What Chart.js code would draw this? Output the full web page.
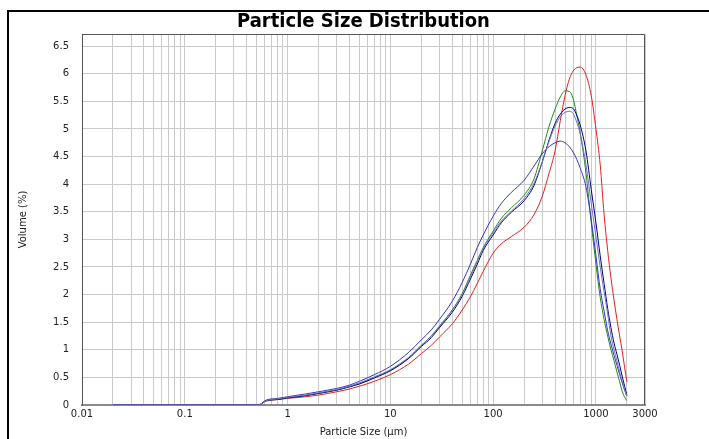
<!DOCTYPE html>
<html>
<head>
<meta charset="utf-8">
<script src="https://cdn.jsdelivr.net/npm/chart.js@4.4.0/dist/chart.umd.min.js"></script>
<style>
html,body{margin:0;padding:0;background:#fff}
canvas{display:block}
</style>
</head>
<body>
<canvas id="psd" width="709" height="439"></canvas>
<script>
// particle sizes (um) the curves are sampled at
const sizes = [0.02, 0.52, 0.62, 0.8, 1, 1.5, 2, 3, 4, 5, 7, 10, 15, 20, 25, 30, 40, 50, 60, 70, 80, 100, 120, 150, 200,
  250, 300, 350, 400, 450, 500, 550, 600, 650, 700, 800, 900, 1000, 1100, 1200, 1300, 1400, 1500, 1600, 1700, 1800, 1900, 2000];

// volume (%) for each measurement
const redRun = [0, 0, 0.07, 0.1, 0.12, 0.15, 0.18, 0.24, 0.29, 0.34, 0.43, 0.55, 0.74, 0.93, 1.08, 1.23, 1.47, 1.72, 1.96, 2.2, 2.42, 2.75, 2.92, 3.05, 3.22,
  3.45, 3.78, 4.2, 4.6, 5.15, 5.6, 5.9, 6.05, 6.11, 6.12, 5.98, 5.6, 5.0, 4.35, 3.45, 2.8, 2.3, 1.9, 1.55, 1.25, 0.98, 0.68, 0.42];
const greenRun = [0, 0, 0.08, 0.1, 0.13, 0.17, 0.21, 0.27, 0.33, 0.39, 0.5, 0.63, 0.85, 1.08, 1.25, 1.42, 1.72, 2.02, 2.35, 2.62, 2.85, 3.15, 3.38, 3.57, 3.8,
  4.1, 4.6, 5.05, 5.36, 5.58, 5.69, 5.68, 5.55, 5.25, 4.95, 4.2, 3.3, 2.55, 1.95, 1.55, 1.25, 1.0, 0.8, 0.6, 0.42, 0.25, 0.14, 0.08];
const navyRun = [0, 0, 0.08, 0.1, 0.13, 0.17, 0.21, 0.27, 0.33, 0.38, 0.49, 0.62, 0.84, 1.06, 1.22, 1.4, 1.68, 1.97, 2.28, 2.55, 2.8, 3.08, 3.3, 3.49, 3.7,
  3.98, 4.4, 4.8, 5.1, 5.27, 5.36, 5.39, 5.37, 5.25, 5.08, 4.6, 3.9, 3.3, 2.7, 2.2, 1.75, 1.4, 1.12, 0.92, 0.72, 0.52, 0.34, 0.18];
const blueRun = [0, 0, 0.09, 0.12, 0.15, 0.2, 0.24, 0.3, 0.36, 0.43, 0.55, 0.7, 0.95, 1.18, 1.36, 1.55, 1.88, 2.22, 2.55, 2.85, 3.08, 3.42, 3.65, 3.85, 4.07,
  4.33, 4.55, 4.68, 4.75, 4.78, 4.75, 4.68, 4.58, 4.45, 4.3, 3.95, 3.35, 2.7, 2.1, 1.7, 1.35, 1.1, 0.9, 0.72, 0.55, 0.4, 0.27, 0.16];
const slateRun = [0, 0, 0.08, 0.11, 0.14, 0.18, 0.22, 0.28, 0.34, 0.4, 0.51, 0.64, 0.86, 1.08, 1.25, 1.43, 1.72, 2.0, 2.32, 2.6, 2.84, 3.12, 3.33, 3.51, 3.74,
  4.02, 4.4, 4.78, 5.05, 5.22, 5.3, 5.32, 5.28, 5.12, 4.92, 4.35, 3.65, 3.05, 2.5, 2.05, 1.65, 1.25, 1.0, 0.8, 0.6, 0.43, 0.28, 0.16];

const xLabels = [0.01, 0.1, 1, 10, 100, 1000, 3000];
const yTicks = [0, 0.5, 1, 1.5, 2, 2.5, 3, 3.5, 4, 4.5, 5, 5.5, 6, 6.5];

// log grid: 1..9 per decade, up to 3000
const xGrid = [];
for (let e = -2; e <= 3; e++) {
  for (let m = 1; m <= 9; m++) {
    const v = +(m * Math.pow(10, e)).toPrecision(3);
    if (v <= 3000) xGrid.push(v);
  }
}

const pts = ys => sizes.map((s, i) => ({x: s, y: ys[i]}));
const line = (ys, color) => ({data: pts(ys), borderColor: color, borderWidth: 1, pointRadius: 0, fill: false, cubicInterpolationMode: 'monotone'});

const font = {family: "'DejaVu Sans', sans-serif", size: 10};

const frame = {
  id: 'frame',
  beforeDraw(c) {
    const ctx = c.ctx;
    ctx.save();
    ctx.fillStyle = '#fff';
    ctx.fillRect(0, 0, c.width, c.height);
    ctx.restore();
  },
  afterDraw(c) {
    const ctx = c.ctx, a = c.chartArea;
    ctx.save();
    ctx.strokeStyle = '#555';
    ctx.lineWidth = 1;
    ctx.beginPath();
    ctx.moveTo(a.left, a.top + 0.5);
    ctx.lineTo(a.right - 0.5, a.top + 0.5);
    ctx.lineTo(a.right - 0.5, a.bottom);
    ctx.stroke();
    ctx.fillStyle = '#000';
    ctx.fillRect(7, 10, 2, c.height - 10);
    ctx.fillRect(7, 10, c.width - 7, 2);
    ctx.restore();
  }
};

// first dataset ends up on top, so the slate run goes first
new Chart(document.getElementById('psd'), {
  type: 'line',
  data: {
    datasets: [
      line(slateRun, '#7272bc'),
      line(blueRun, '#3535c8'),
      line(navyRun, '#000080'),
      line(greenRun, '#228b22'),
      line(redRun, '#e02020')
    ]
  },
  options: {
    responsive: false,
    animation: false,
    layout: {padding: {left: 0, right: 64, top: 0, bottom: 0}},
    plugins: {
      legend: {display: false},
      tooltip: {enabled: false},
      title: {
        display: true,
        text: 'Particle Size Distribution',
        fullSize: false,
        color: '#000',
        font: {family: "'DejaVu Sans Condensed', 'DejaVu Sans', sans-serif", size: 20, weight: 'bold', lineHeight: 1.2},
        padding: {top: 10, bottom: 0}
      }
    },
    scales: {
      x: {
        type: 'logarithmic',
        min: 0.01,
        max: 3000,
        afterBuildTicks: s => { s.ticks = xGrid.map(v => ({value: v})); },
        afterFit: s => { s.height = 34; },
        grid: {color: '#cacaca', lineWidth: 1, drawTicks: false},
        border: {color: '#8a8a8a', width: 2},
        ticks: {
          autoSkip: false,
          maxRotation: 0,
          padding: 3,
          color: '#222',
          font: font,
          callback: v => xLabels.includes(v) ? String(v) : ''
        },
        title: {display: true, text: 'Particle Size (µm)', color: '#222', font: font, padding: {top: 0, bottom: 1}}
      },
      y: {
        min: 0,
        max: 6.72,
        afterBuildTicks: s => { s.ticks = yTicks.map(v => ({value: v})); },
        afterFit: s => { s.width = 82; },
        grid: {color: '#cacaca', lineWidth: 1, drawTicks: false},
        border: {color: '#555', width: 1},
        ticks: {padding: 13, color: '#222', font: font, callback: v => String(v)},
        title: {display: true, text: 'Volume (%)', color: '#222', font: font, padding: {top: 17, bottom: 0}}
      }
    }
  },
  plugins: [frame]
});
</script>
</body>
</html>
